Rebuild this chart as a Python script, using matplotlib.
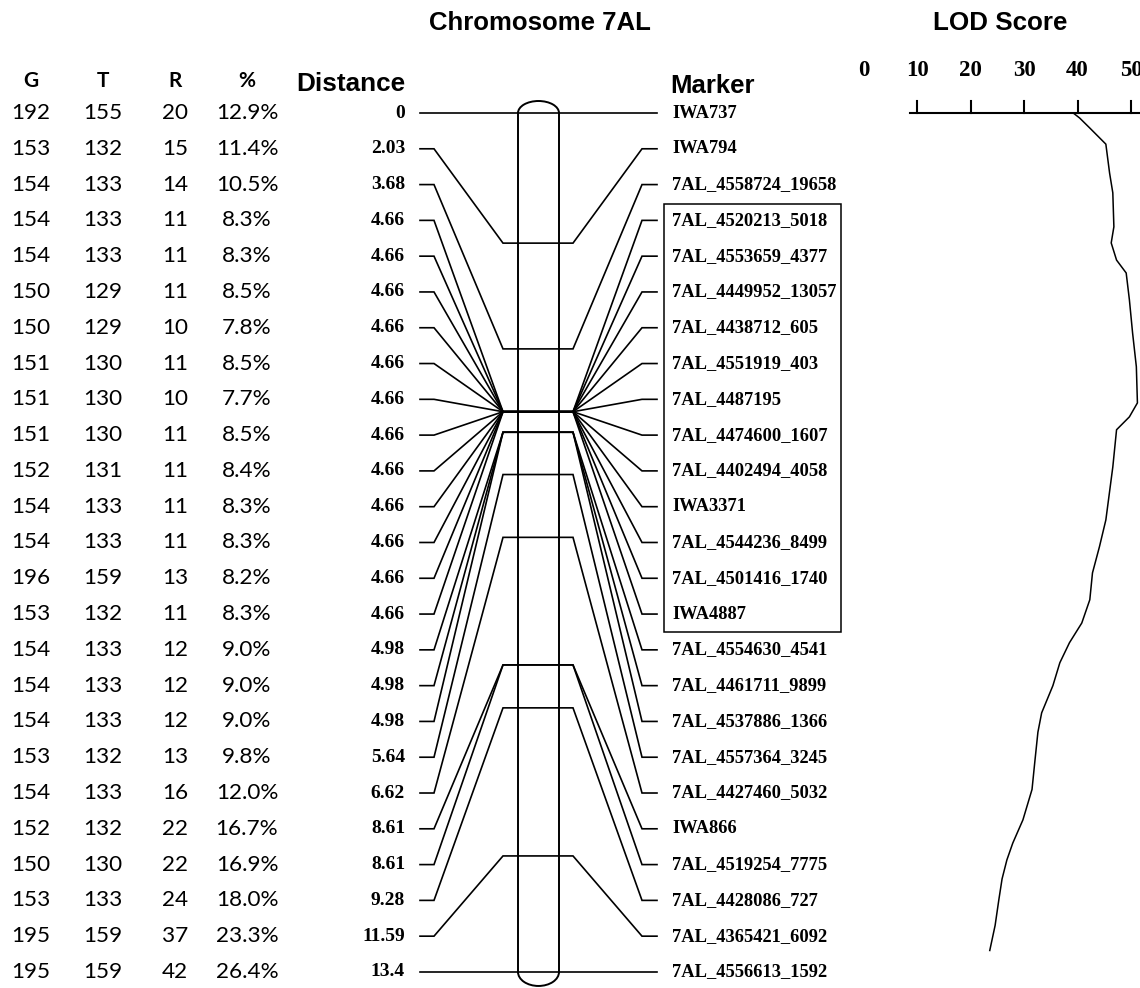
import numpy as np
import matplotlib
matplotlib.use("Agg")
import matplotlib.pyplot as plt
from matplotlib.patches import Arc, Rectangle

# ---- data ----
G = [192, 153, 154, 154, 154, 150, 150, 151, 151, 151, 152, 154, 154,
     196, 153, 154, 154, 154, 153, 154, 152, 150, 153, 195, 195]
T = [155, 132, 133, 133, 133, 129, 129, 130, 130, 130, 131, 133, 133,
     159, 132, 133, 133, 133, 132, 133, 132, 130, 133, 159, 159]
R = [20, 15, 14, 11, 11, 11, 10, 11, 10, 11, 11, 11, 11,
     13, 11, 12, 12, 12, 13, 16, 22, 22, 24, 37, 42]
PCT = ["12.9%", "11.4%", "10.5%", "8.3%", "8.3%", "8.5%", "7.8%", "8.5%",
       "7.7%", "8.5%", "8.4%", "8.3%", "8.3%", "8.2%", "8.3%", "9.0%",
       "9.0%", "9.0%", "9.8%", "12.0%", "16.7%", "16.9%", "18.0%",
       "23.3%", "26.4%"]
DIST = [0, 2.03, 3.68, 4.66, 4.66, 4.66, 4.66, 4.66, 4.66, 4.66, 4.66,
        4.66, 4.66, 4.66, 4.66, 4.98, 4.98, 4.98, 5.64, 6.62, 8.61, 8.61,
        9.28, 11.59, 13.4]
MARKERS = ["IWA737", "IWA794", "7AL_4558724_19658", "7AL_4520213_5018",
           "7AL_4553659_4377", "7AL_4449952_13057", "7AL_4438712_605",
           "7AL_4551919_403", "7AL_4487195", "7AL_4474600_1607",
           "7AL_4402494_4058", "IWA3371", "7AL_4544236_8499",
           "7AL_4501416_1740", "IWA4887", "7AL_4554630_4541",
           "7AL_4461711_9899", "7AL_4537886_1366", "7AL_4557364_3245",
           "7AL_4427460_5032", "IWA866", "7AL_4519254_7775",
           "7AL_4428086_727", "7AL_4365421_6092", "7AL_4556613_1592"]
BOXED = (3, 14)  # first and last boxed marker

# LOD profile (position in marker rows, LOD value)
LOD_ROW = [0, 0.14, 0.42, 0.87, 1.68, 2.23, 3.18, 3.63, 4.11, 4.47, 5.22,
           6.15, 7.09, 8.10, 8.49, 8.85, 9.89, 10.8, 11.37, 12.12, 12.85,
           13.6, 14.25, 14.8, 15.36, 16.0, 16.76, 17.3, 18.16, 18.9, 19.75,
           20.4, 20.87, 21.4, 21.98, 22.7, 23.4]
LOD_VAL = [39.2, 40.4, 42.3, 45.3, 46.0, 46.6, 46.8, 46.3, 47.3, 49.1, 49.7,
           50.3, 51.0, 51.2, 49.7, 47.3, 46.6, 45.8, 45.3, 44.1, 42.8,
           42.3, 40.8, 38.5, 36.7, 35.4, 33.3, 32.6, 32.0, 31.5, 29.8,
           27.9, 26.8, 25.9, 25.3, 24.6, 23.6]
LOD_TICKS = [0, 10, 20, 30, 40, 50]

# ---- layout (pixels) ----
W, H = 1140, 988
ROW0, ROWH = 113, 35.79          # y of first row, row spacing
COLS = [31, 103, 175, 247]       # table column centres
X_DIST = 405
X_L0, X_L1, X_C0 = 420, 434, 503
X_C1, X_R0, X_R1 = 573, 642, 657
X_CHR0, X_CHR1 = 518, 559
X_LAB = 672
LOD_X10, LOD_PX = 917, 5.35      # pixel of LOD=10, pixels per LOD unit

SANS = "Liberation Sans"
SERIF = "Liberation Serif"
TAB = "Lato"

n = len(MARKERS)
rows = np.arange(n)
cpos = np.array(DIST) / max(DIST) * (n - 1)   # position on chromosome, in rows

fig = plt.figure(figsize=(W / 100, H / 100), dpi=100)
ax = fig.add_axes([0, 0, 1, 1])
ax.set_xlim(0, W)
ax.set_ylim((H - ROW0) / ROWH, -ROW0 / ROWH)
ax.axis("off")

def py(p):
    # pixel y -> row units
    return (p - ROW0) / ROWH

# table
for j, h in enumerate(["G", "T", "R", "%"]):
    ax.text(COLS[j], py(81), h, ha="center", va="center", fontsize=15,
            fontweight="bold", family=TAB)
for i in rows:
    for j, v in enumerate([G[i], T[i], R[i], PCT[i]]):
        ax.text(COLS[j], i, str(v), ha="center", va="center", fontsize=16.2,
                family=TAB)

# headers
ax.text(X_DIST, py(84), "Distance", ha="right", va="center", fontsize=18.8,
        fontweight="bold", family=SANS)
ax.text(670, py(86), "Marker", ha="left", va="center", fontsize=18.5,
        fontweight="bold", family=SANS)
ax.text(540, py(23), "Chromosome 7AL", ha="center", va="center", fontsize=18.5,
        fontweight="bold", family=SANS)
ax.text(1000, py(23), "LOD Score", ha="center", va="center", fontsize=18.7,
        fontweight="bold", family=SANS)

# connector lines
lw = 1.2
for i in rows:
    ax.plot([X_L0, X_L1, X_C0, X_C1, X_R0, X_R1],
            [i, i, cpos[i], cpos[i], i, i], color="black", lw=lw,
            solid_joinstyle="miter")
    ax.text(X_DIST, i, f"{DIST[i]:g}", ha="right", va="center", fontsize=14,
            fontweight="bold", family=SERIF)
    ax.text(X_LAB, i, MARKERS[i], ha="left", va="center", fontsize=13.3,
            fontweight="bold", family=SERIF)

# chromosome body
ax.plot([X_CHR0, X_CHR0], [0, n - 1], color="black", lw=1.4)
ax.plot([X_CHR1, X_CHR1], [0, n - 1], color="black", lw=1.4)
cx, cw = (X_CHR0 + X_CHR1) / 2, X_CHR1 - X_CHR0
ax.add_patch(Arc((cx, 0), cw, 2 * 12 / ROWH, theta1=180, theta2=360,
                 color="black", lw=1.4))
ax.add_patch(Arc((cx, n - 1), cw, 2 * 14 / ROWH, theta1=0, theta2=180,
                 color="black", lw=1.4))

# box around the co-segregating markers
b0, b1 = BOXED
ax.add_patch(Rectangle((664, b0 - 0.45), 841 - 664, (b1 - b0) + 0.95,
                       fill=False, edgecolor="black", lw=1.1))

# LOD panel: same figure area, x in LOD units
ax2 = fig.add_axes([0, 0, 1, 1])
ax2.set_xlim(10 - LOD_X10 / LOD_PX, 10 + (W - LOD_X10) / LOD_PX)
ax2.set_ylim(ax.get_ylim())
ax2.axis("off")
ax2.patch.set_visible(False)
ax2.plot([8.7, ax2.get_xlim()[1]], [0, 0], color="black", lw=1.5)
for t in LOD_TICKS:
    if t > 0:
        ax2.plot([t, t], [0, py(101)], color="black", lw=1.5)
    ax2.text(t, py(70), str(t), ha="center", va="center", fontsize=16.5,
             fontweight="bold", family=SERIF)
ax2.plot(LOD_VAL, LOD_ROW, color="black", lw=1.1)

fig.savefig("out.png", dpi=100)
